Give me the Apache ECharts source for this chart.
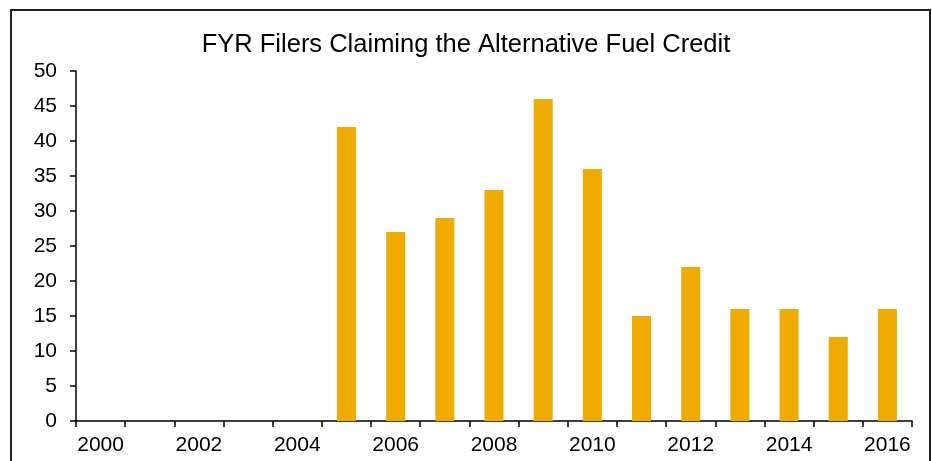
<!DOCTYPE html>
<html>
<head>
	<meta charset="UTF-8" />
	<title>FYR Filers Claiming the Alternative Fuel Credit</title>
	<style>
		html, body { margin: 0; padding: 0; background: #fff; overflow: hidden; }
		#frame { position: absolute; left: 10px; top: 9px; width: 921px; height: 480px; border: 2px solid #222; box-sizing: border-box; }
		#chart { position: absolute; left: 0; top: 0; width: 932px; height: 461px; }
	</style>
</head>
<body>
	<div id="frame"></div>
	<div id="chart"></div>
	<script type="text/javascript" src="https://cdn.jsdelivr.net/npm/echarts@6/dist/echarts.min.js"></script>
	<script type="text/javascript">
		// data
		const years = ['2000', '2001', '2002', '2003', '2004', '2005', '2006', '2007', '2008',
			'2009', '2010', '2011', '2012', '2013', '2014', '2015', '2016'];
		const filers = [null, null, null, null, null, 42, 27, 29, 33, 46, 36, 15, 22, 16, 16, 12, 16];
		const yTicks = { min: 0, max: 50, interval: 5 };

		const chart = echarts.init(document.getElementById('chart'), null, { renderer: 'canvas' });
		const font = 'Liberation Sans, Arial, sans-serif';

		chart.setOption({
			animation: false,
			title: {
				text: 'FYR Filers Claiming the Alternative Fuel Credit',
				left: 'center',
				top: 27,
				textStyle: { fontFamily: font, fontSize: 25.5, fontWeight: 'normal', color: '#000' }
			},
			grid: { left: 76, right: 20, top: 71, bottom: 40, containLabel: false },
			xAxis: {
				type: 'category',
				data: years,
				boundaryGap: true,
				axisLine: { lineStyle: { color: '#000', width: 1.5 } },
				axisTick: { show: true, inside: false, length: 6, alignWithLabel: false, interval: 0, lineStyle: { color: '#000', width: 1.5 } },
				axisLabel: { interval: 1, color: '#000', fontFamily: font, fontSize: 21, margin: 14 },
				splitLine: { show: false }
			},
			yAxis: {
				type: 'value',
				min: yTicks.min,
				max: yTicks.max,
				interval: yTicks.interval,
				axisLine: { show: true, lineStyle: { color: '#000', width: 1.5 } },
				axisTick: { show: true, inside: false, length: 6, lineStyle: { color: '#000', width: 1.5 } },
				axisLabel: { color: '#000', fontFamily: font, fontSize: 21, margin: 19 },
				splitLine: { show: false }
			},
			series: [{
				type: 'bar',
				data: filers,
				barWidth: 19,
				itemStyle: { color: '#F0AB00' }
			}]
		});
	</script>
</body>
</html>
